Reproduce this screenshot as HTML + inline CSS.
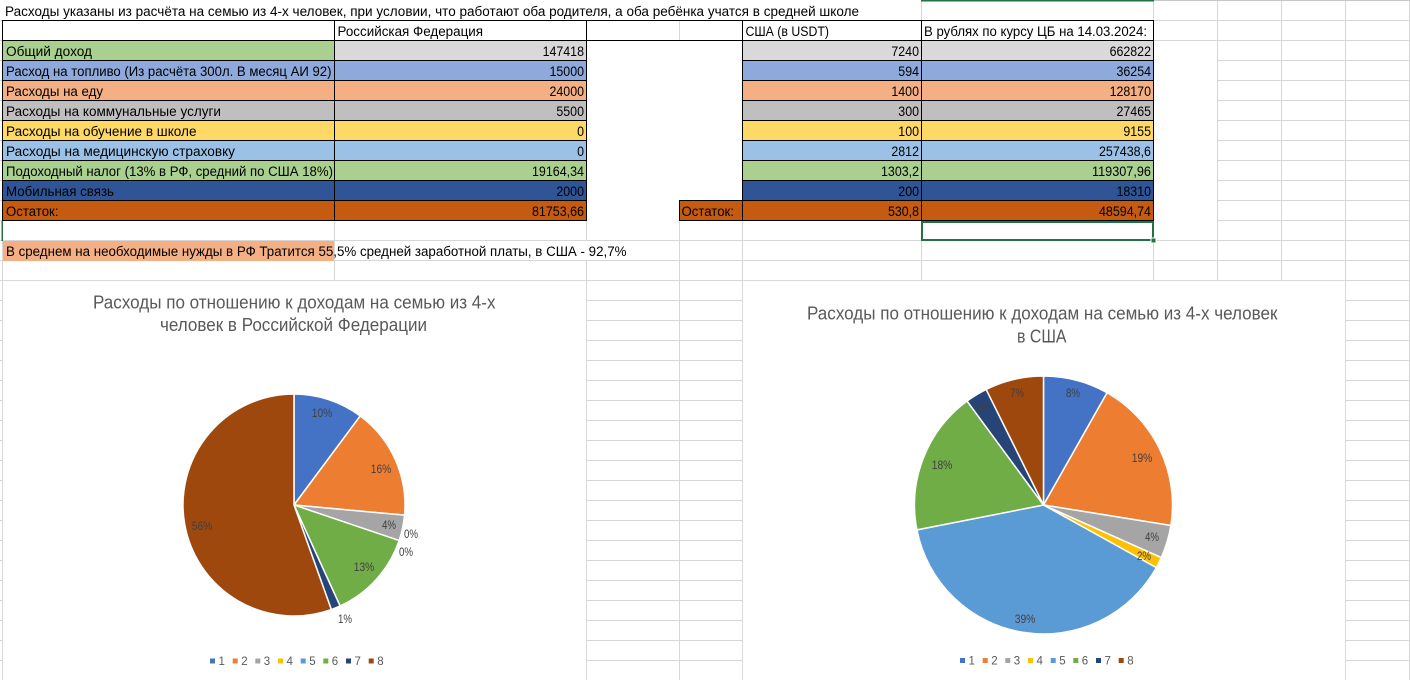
<!DOCTYPE html>
<html><head><meta charset="utf-8">
<style>
html,body{margin:0;padding:0;background:#fff;width:1410px;height:680px;overflow:hidden}
svg{display:block}
text{font-family:"Liberation Sans","Noto Sans CJK SC",sans-serif}
.t{font-size:13.5px;fill:#000}
.lab{font-size:11.5px;fill:#404040}
.leg{font-size:11.5px;fill:#595959}
.ttl{font-size:18px;fill:#595959}
</style></head><body>
<svg width="1410" height="680" viewBox="0 0 1410 680" xmlns="http://www.w3.org/2000/svg">
<rect x="0" y="0" width="1410" height="680" fill="#fff"/>
<!-- gridlines -->
<g stroke="#D6D6D6" stroke-width="1">
<path d="M0 20.5H1410M0 40.5H1410M0 60.5H1410M0 80.5H1410M0 100.5H1410M0 120.5H1410M0 140.5H1410M0 160.5H1410M0 180.5H1410M0 200.5H1410M0 220.5H1410M0 240.5H1410M0 260.5H1410M0 280.5H1410M0 300.5H1410M0 320.5H1410M0 340.5H1410M0 360.5H1410M0 380.5H1410M0 400.5H1410M0 420.5H1410M0 440.5H1410M0 460.5H1410M0 480.5H1410M0 500.5H1410M0 520.5H1410M0 540.5H1410M0 560.5H1410M0 580.5H1410M0 600.5H1410M0 620.5H1410M0 640.5H1410M0 660.5H1410"/>
<path d="M2.5 0V680M334.5 0V680M586.5 0V680M679.5 0V680M742.5 0V680M921.5 0V680M1153.5 0V680M1217.5 0V680M1281.5 0V680M1345.5 0V680M1409.5 0V680"/>
</g>
<!-- whitened areas -->
<rect x="0" y="0" width="921" height="20" fill="#fff"/>
<rect x="587" y="41" width="155" height="180" fill="#fff"/>
<rect x="1154" y="41" width="63" height="180" fill="#fff"/>
<rect x="335" y="241" width="292" height="19" fill="#fff"/>
<!-- top header highlight -->
<rect x="921" y="0" width="233" height="1.5" fill="#217346"/>
<rect x="1154" y="0" width="256" height="1" fill="#C8C8C8"/>

<!-- fills -->
<g>
<rect x="3" y="41" width="331" height="20" fill="#A9D08E"/>
<rect x="334" y="41" width="252" height="20" fill="#D9D9D9"/>
<rect x="742" y="41" width="411" height="20" fill="#D9D9D9"/>

<rect x="3" y="61" width="583" height="20" fill="#8EA9DB"/>
<rect x="742" y="61" width="411" height="20" fill="#8EA9DB"/>
<rect x="3" y="81" width="583" height="20" fill="#F4B084"/>
<rect x="742" y="81" width="411" height="20" fill="#F4B084"/>
<rect x="3" y="101" width="583" height="20" fill="#BFBFBF"/>
<rect x="742" y="101" width="411" height="20" fill="#BFBFBF"/>
<rect x="3" y="121" width="583" height="20" fill="#FFD966"/>
<rect x="742" y="121" width="411" height="20" fill="#FFD966"/>
<rect x="3" y="141" width="583" height="20" fill="#9BC2E6"/>
<rect x="742" y="141" width="411" height="20" fill="#9BC2E6"/>
<rect x="3" y="161" width="583" height="20" fill="#A9D08E"/>
<rect x="742" y="161" width="411" height="20" fill="#A9D08E"/>
<rect x="3" y="181" width="583" height="20" fill="#2F5597"/>
<rect x="742" y="181" width="411" height="20" fill="#2F5597"/>
<rect x="3" y="201" width="583" height="20" fill="#C55A11"/>
<rect x="679" y="201" width="474" height="20" fill="#C55A11"/>
<rect x="3" y="241" width="331" height="20" fill="#F4B084"/>
</g>

<!-- black borders -->
<g stroke="#000" stroke-width="1" fill="none">
<path d="M2 20.5H1154M2 40.5H1154"/>
<path d="M2 60.5H587M2 80.5H587M2 100.5H587M2 120.5H587M2 140.5H587M2 160.5H587M2 180.5H587M2 200.5H587M2 220.5H587"/>
<path d="M742 60.5H1154M742 80.5H1154M742 100.5H1154M742 120.5H1154M742 140.5H1154M742 160.5H1154M742 180.5H1154M742 200.5H1154M742 220.5H1154"/>
<path d="M679 200.5H742M679 220.5H742"/>
<path d="M2.5 20V221M334.5 20V221M586.5 20V221M742.5 20V221M921.5 20V221M1153.5 20V221M679.5 200V221"/>
</g>
<!-- selection -->
<rect x="922" y="222" width="231" height="18" fill="none" stroke="#217346" stroke-width="2"/>
<rect x="1151" y="238" width="5" height="5" fill="#217346" stroke="#fff" stroke-width="1"/>
<rect x="1.5" y="221" width="1.5" height="20" fill="#217346"/>

<!-- table text -->
<g class="t">
<text x="5" y="16" textLength="854" lengthAdjust="spacingAndGlyphs">Расходы указаны из расчёта на семью из 4-х человек, при условии, что работают оба родителя, а оба ребёнка учатся в средней школе</text>
<text x="337.5" y="36" textLength="145.5" lengthAdjust="spacingAndGlyphs">Российская Федерация</text>
<text x="745.5" y="36" textLength="83.5" lengthAdjust="spacingAndGlyphs">США (в USDT)</text>
<text x="924" y="36" textLength="223" lengthAdjust="spacingAndGlyphs">В рублях по курсу ЦБ на 14.03.2024:</text>

<text x="6" y="56" textLength="86" lengthAdjust="spacingAndGlyphs">Общий доход</text>
<text x="6" y="76" textLength="325.5" lengthAdjust="spacingAndGlyphs">Расход на топливо (Из расчёта 300л. В месяц АИ 92)</text>
<text x="6" y="96" textLength="97" lengthAdjust="spacingAndGlyphs">Расходы на еду</text>
<text x="6" y="116" textLength="215" lengthAdjust="spacingAndGlyphs">Расходы на коммунальные услуги</text>
<text x="6" y="136" textLength="190.5" lengthAdjust="spacingAndGlyphs">Расходы на обучение в школе</text>
<text x="6" y="156" textLength="229" lengthAdjust="spacingAndGlyphs">Расходы на медицинскую страховку</text>
<text x="6" y="176" textLength="327" lengthAdjust="spacingAndGlyphs">Подоходный налог (13% в РФ, средний по США 18%)</text>
<text x="6" y="196" textLength="108" lengthAdjust="spacingAndGlyphs">Мобильная связь</text>
<text x="6" y="216" textLength="52.5" lengthAdjust="spacingAndGlyphs">Остаток:</text>
<text x="681.5" y="216" textLength="52.5" lengthAdjust="spacingAndGlyphs">Остаток:</text>
<text x="6" y="256" textLength="620.5" lengthAdjust="spacingAndGlyphs">В среднем на необходимые нужды в РФ Тратится 55,5% средней заработной платы, в США - 92,7%</text>
</g>
<g class="t" text-anchor="end">
<text x="584" y="56" textLength="41.4" lengthAdjust="spacingAndGlyphs">147418</text>
<text x="584" y="76" textLength="34.5" lengthAdjust="spacingAndGlyphs">15000</text>
<text x="584" y="96" textLength="34.5" lengthAdjust="spacingAndGlyphs">24000</text>
<text x="584" y="116" textLength="27.6" lengthAdjust="spacingAndGlyphs">5500</text>
<text x="584" y="136" textLength="6.9" lengthAdjust="spacingAndGlyphs">0</text>
<text x="584" y="156" textLength="6.9" lengthAdjust="spacingAndGlyphs">0</text>
<text x="584" y="176" textLength="52" lengthAdjust="spacingAndGlyphs">19164,34</text>
<text x="584" y="196" textLength="27.6" lengthAdjust="spacingAndGlyphs">2000</text>
<text x="584" y="216" textLength="52" lengthAdjust="spacingAndGlyphs">81753,66</text>

<text x="919" y="56" textLength="27.6" lengthAdjust="spacingAndGlyphs">7240</text>
<text x="919" y="76" textLength="20.7" lengthAdjust="spacingAndGlyphs">594</text>
<text x="919" y="96" textLength="27.6" lengthAdjust="spacingAndGlyphs">1400</text>
<text x="919" y="116" textLength="20.7" lengthAdjust="spacingAndGlyphs">300</text>
<text x="919" y="136" textLength="20.7" lengthAdjust="spacingAndGlyphs">100</text>
<text x="919" y="156" textLength="27.6" lengthAdjust="spacingAndGlyphs">2812</text>
<text x="919" y="176" textLength="38" lengthAdjust="spacingAndGlyphs">1303,2</text>
<text x="919" y="196" textLength="20.7" lengthAdjust="spacingAndGlyphs">200</text>
<text x="919" y="216" textLength="31" lengthAdjust="spacingAndGlyphs">530,8</text>

<text x="1151" y="56" textLength="41.4" lengthAdjust="spacingAndGlyphs">662822</text>
<text x="1151" y="76" textLength="34.5" lengthAdjust="spacingAndGlyphs">36254</text>
<text x="1151" y="96" textLength="41.4" lengthAdjust="spacingAndGlyphs">128170</text>
<text x="1151" y="116" textLength="34.5" lengthAdjust="spacingAndGlyphs">27465</text>
<text x="1151" y="136" textLength="27.6" lengthAdjust="spacingAndGlyphs">9155</text>
<text x="1151" y="156" textLength="52" lengthAdjust="spacingAndGlyphs">257438,6</text>
<text x="1151" y="176" textLength="59" lengthAdjust="spacingAndGlyphs">119307,96</text>
<text x="1151" y="196" textLength="34.5" lengthAdjust="spacingAndGlyphs">18310</text>
<text x="1151" y="216" textLength="52" lengthAdjust="spacingAndGlyphs">48594,74</text>
</g>

<!-- chart 1 -->
<rect x="2.5" y="280.5" width="584" height="400" fill="#fff" stroke="#D9D9D9"/>
<text class="ttl" x="93" y="308.5" textLength="402.5" lengthAdjust="spacingAndGlyphs">Расходы по отношению к доходам на семью из 4-х</text>
<text class="ttl" x="160" y="331" textLength="267" lengthAdjust="spacingAndGlyphs">человек в Российской Федерации</text>
<g stroke="#fff" stroke-width="1.5" stroke-linejoin="round">
<path d="M294,505 L294,394 A111,111 0 0 1 360.23,415.92 Z" fill="#4472C4"/>
<path d="M294,505 L360.23,415.92 A111,111 0 0 1 404.54,515.14 Z" fill="#ED7D31"/>
<path d="M294,505 L404.54,515.14 A111,111 0 0 1 399.16,540.53 Z" fill="#A5A5A5"/>
<path d="M294,505 L399.16,540.53 A111,111 0 0 1 340.08,605.98 Z" fill="#70AD47"/>
<path d="M294,505 L340.08,605.98 A111,111 0 0 1 331.31,609.54 Z" fill="#264478"/>
<path d="M294,505 L331.31,609.54 A111,111 0 1 1 294,394 Z" fill="#9E480E"/>
</g>
<g class="lab" text-anchor="middle">
<text x="322" y="417" textLength="20.5" lengthAdjust="spacingAndGlyphs">10%</text>
<text x="381" y="473" textLength="20.5" lengthAdjust="spacingAndGlyphs">16%</text>
<text x="389" y="529" textLength="14" lengthAdjust="spacingAndGlyphs">4%</text>
<text x="411" y="538" textLength="14" lengthAdjust="spacingAndGlyphs">0%</text>
<text x="406" y="556" textLength="14" lengthAdjust="spacingAndGlyphs">0%</text>
<text x="364" y="571" textLength="20.5" lengthAdjust="spacingAndGlyphs">13%</text>
<text x="345" y="623" textLength="14" lengthAdjust="spacingAndGlyphs">1%</text>
<text x="202" y="530" textLength="20.5" lengthAdjust="spacingAndGlyphs">56%</text>
</g>
<g>
<rect x="210" y="658.5" width="5" height="5" fill="#4472C4"/>
<rect x="232.7" y="658.5" width="5" height="5" fill="#ED7D31"/>
<rect x="255.3" y="658.5" width="5" height="5" fill="#A5A5A5"/>
<rect x="278" y="658.5" width="5" height="5" fill="#FFC000"/>
<rect x="300.7" y="658.5" width="5" height="5" fill="#5B9BD5"/>
<rect x="323.3" y="658.5" width="5" height="5" fill="#70AD47"/>
<rect x="346" y="658.5" width="5" height="5" fill="#264478"/>
<rect x="368.7" y="658.5" width="5" height="5" fill="#9E480E"/>
</g>
<g class="leg">
<text x="218.5" y="665">1</text>
<text x="241.2" y="665">2</text>
<text x="263.8" y="665">3</text>
<text x="286.5" y="665">4</text>
<text x="309.2" y="665">5</text>
<text x="331.8" y="665">6</text>
<text x="354.5" y="665">7</text>
<text x="377.2" y="665">8</text>
</g>

<!-- chart 2 -->
<rect x="742.5" y="280.5" width="603" height="400" fill="#fff" stroke="#D9D9D9"/>
<text class="ttl" x="807" y="319.3" textLength="470.5" lengthAdjust="spacingAndGlyphs">Расходы по отношению к доходам на семью из 4-х человек</text>
<text class="ttl" x="1017" y="342.3" textLength="49.5" lengthAdjust="spacingAndGlyphs">в США</text>
<g stroke="#fff" stroke-width="1.5" stroke-linejoin="round">
<path d="M1043.5,505 L1043.5,376 A129,129 0 0 1 1107.10,392.76 Z" fill="#4472C4"/>
<path d="M1043.5,505 L1107.10,392.76 A129,129 0 0 1 1170.86,525.51 Z" fill="#ED7D31"/>
<path d="M1043.5,505 L1170.86,525.51 A129,129 0 0 1 1161.29,557.61 Z" fill="#A5A5A5"/>
<path d="M1043.5,505 L1161.29,557.61 A129,129 0 0 1 1156.28,567.62 Z" fill="#FFC000"/>
<path d="M1043.5,505 L1156.28,567.62 A129,129 0 0 1 916.93,529.92 Z" fill="#5B9BD5"/>
<path d="M1043.5,505 L916.93,529.92 A129,129 0 0 1 967.06,401.08 Z" fill="#70AD47"/>
<path d="M1043.5,505 L967.06,401.08 A129,129 0 0 1 986.16,389.45 Z" fill="#264478"/>
<path d="M1043.5,505 L986.16,389.45 A129,129 0 0 1 1043.5,376 Z" fill="#9E480E"/>
</g>
<g class="lab" text-anchor="middle">
<text x="1073" y="397" textLength="14" lengthAdjust="spacingAndGlyphs">8%</text>
<text x="1142" y="462" textLength="20.5" lengthAdjust="spacingAndGlyphs">19%</text>
<text x="1152" y="541" textLength="14" lengthAdjust="spacingAndGlyphs">4%</text>
<text x="1144" y="560" textLength="14" lengthAdjust="spacingAndGlyphs">2%</text>
<text x="1025" y="623" textLength="20.5" lengthAdjust="spacingAndGlyphs">39%</text>
<text x="942" y="469" textLength="20.5" lengthAdjust="spacingAndGlyphs">18%</text>
<text x="983" y="412" textLength="14" lengthAdjust="spacingAndGlyphs">3%</text>
<text x="1017" y="397" textLength="14" lengthAdjust="spacingAndGlyphs">7%</text>
</g>
<g>
<rect x="960" y="658" width="5" height="5" fill="#4472C4"/>
<rect x="982.7" y="658" width="5" height="5" fill="#ED7D31"/>
<rect x="1005.3" y="658" width="5" height="5" fill="#A5A5A5"/>
<rect x="1028" y="658" width="5" height="5" fill="#FFC000"/>
<rect x="1050.7" y="658" width="5" height="5" fill="#5B9BD5"/>
<rect x="1073.3" y="658" width="5" height="5" fill="#70AD47"/>
<rect x="1096" y="658" width="5" height="5" fill="#264478"/>
<rect x="1118.7" y="658" width="5" height="5" fill="#9E480E"/>
</g>
<g class="leg">
<text x="968.5" y="664.5">1</text>
<text x="991.2" y="664.5">2</text>
<text x="1013.8" y="664.5">3</text>
<text x="1036.5" y="664.5">4</text>
<text x="1059.2" y="664.5">5</text>
<text x="1081.8" y="664.5">6</text>
<text x="1104.5" y="664.5">7</text>
<text x="1127.2" y="664.5">8</text>
</g>
</svg>
</body></html>
